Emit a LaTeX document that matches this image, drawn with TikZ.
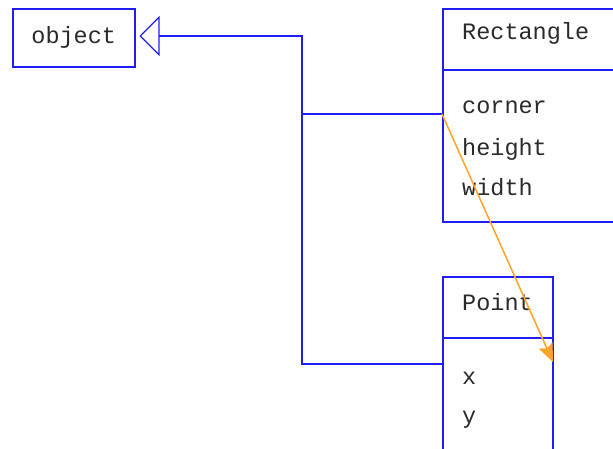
\documentclass[tikz,border=0pt]{standalone}
\usepackage{fontspec}
\setmonofont{Liberation Mono}
\usetikzlibrary{arrows.meta,positioning}
\definecolor{UmlBlue}{HTML}{1F1FF5}
\definecolor{UmlOrange}{HTML}{FFA52A}
\definecolor{UmlInk}{HTML}{2A2A2A}
\tikzset{
  uml/box/.style={
    draw=UmlBlue, line width=1.5pt, fill=white, inner sep=0pt,
    font=\ttfamily\fontsize{23.5}{27}\selectfont, text=UmlInk
  },
  uml/text/.style={
    anchor=base west, inner sep=0pt,
    font=\ttfamily\fontsize{23.5}{27}\selectfont, text=UmlInk
  },
  uml/inherit/.style={
    draw=UmlBlue, line width=1.5pt,
    -{Triangle[open,length=20pt,width=40pt,line width=1.2pt]}
  },
  uml/line/.style={draw=UmlBlue, line width=1.5pt},
  uml/assoc/.style={
    draw=UmlOrange, line width=1.5pt,
    -{Stealth[length=18pt,width=15pt,inset=3pt]}
  }
}
\begin{document}
\begin{tikzpicture}[x=1pt,y=-1pt]
  \useasboundingbox (0,0) rectangle (613,448);
  % classes
  \node[uml/box,anchor=north west,minimum width=122pt,minimum height=58pt]
    (obj) at (12,8) {object};
  \node[uml/box,anchor=north west,minimum width=200pt,minimum height=61pt]
    (rect) at (442,8) {};
  \node[uml/box,anchor=north west,minimum width=200pt,minimum height=152pt]
    (rectbody) at (442,69) {};
  \node[uml/box,anchor=north west,minimum width=110pt,minimum height=61pt]
    (pt) at (442,276) {};
  \node[uml/box,anchor=north west,minimum width=110pt,minimum height=150pt]
    (ptbody) at (442,337) {};
  % names and attributes
  \node[uml/text] (rectname) at (462,39) {Rectangle};
  \node[uml/text] (corner) at (462,113) {corner};
  \node[uml/text] (height) at (462,155) {height};
  \node[uml/text] (width) at (462,195) {width};
  \node[uml/text] (ptname) at (462,310) {Point};
  \node[uml/text] (ptx) at (462,384) {x};
  \node[uml/text] (pty) at (462,423) {y};
  % connectors
  \coordinate (junc) at (302,36);
  \coordinate (recthook) at (442,114);
  \coordinate (pthook) at (442,364);
  \coordinate (pttarget) at (553,362);
  \draw[uml/line] (pthook) -| (junc |- recthook);
  \draw[uml/inherit,shorten >=4pt] (recthook) -| (junc) -- (obj.east |- junc);
  \draw[uml/assoc] (recthook) -- (pttarget);
\end{tikzpicture}
\end{document}
